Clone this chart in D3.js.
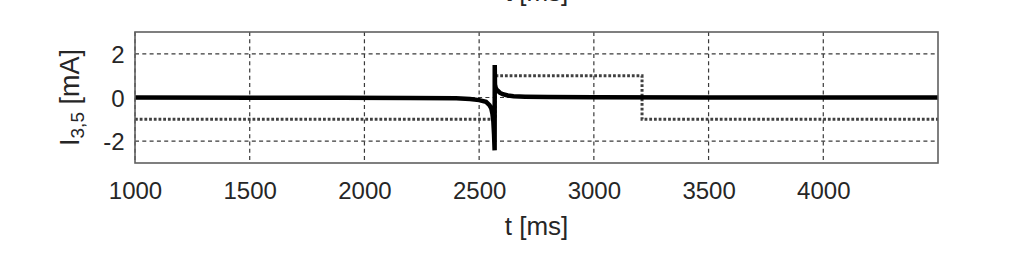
<!DOCTYPE html>
<html>
<head>
<meta charset="utf-8">
<script src="https://cdn.jsdelivr.net/npm/d3@7"></script>
<style>
  body { margin: 0; background: #fff; }
  svg { display: block; font-family: "Liberation Sans", Arial, sans-serif; }
</style>
</head>
<body>
<div id="chart"></div>
<script>
// solid trace: I_3,5 current (time in ms, value in mA)
var solidT = [1000, 1900, 2200, 2400, 2460, 2500, 2530, 2545, 2553, 2558, 2562, 2565, 2567.5,
              2568, 2569, 2572, 2576, 2581, 2590, 2603, 2625, 2650, 2700, 2800, 3000, 3500, 4500];
var solidV = [0.0, -0.01, -0.02, -0.04, -0.07, -0.12, -0.2, -0.35, -0.5, -0.75, -1.1, -1.7, -2.42,
              1.49, 0.6, 0.45, 0.37, 0.31, 0.22, 0.15, 0.09, 0.06, 0.04, 0.02, 0.01, 0.0, 0.0];

// dotted trace: square pulse
var dotT = [1000, 2570, 2570, 3210, 3210, 4500];
var dotV = [-1, -1, 1, 1, -1, -1];

var xTicks = [1000, 1500, 2000, 2500, 3000, 3500, 4000];
var yTicks = [-2, 0, 2];

var margin = { top: 32, right: 98, bottom: 97, left: 135 },
    W = 1036, H = 260,
    width = W - margin.left - margin.right,
    height = H - margin.top - margin.bottom;

var svg = d3.select("#chart")
    .append("svg")
    .attr("width", W)
    .attr("height", H);

var g = svg.append("g")
    .attr("transform", "translate(" + margin.left + "," + margin.top + ")");

var x = d3.scaleLinear().domain([1000, 4500]).range([0, width]);
var y = d3.scaleLinear().domain([-3, 3]).range([height, 0]);

g.append("clipPath").attr("id", "clip")
    .append("rect").attr("width", width).attr("height", height);

// grid
g.selectAll(".vgrid")
    .data(xTicks)
    .enter()
    .append("line")
    .attr("x1", function (d) { return x(d); })
    .attr("x2", function (d) { return x(d); })
    .attr("y1", 0)
    .attr("y2", height)
    .attr("stroke", "#3a3a3a")
    .attr("stroke-width", 1.2)
    .attr("stroke-dasharray", "4,3.3");

g.selectAll(".hgrid")
    .data(yTicks)
    .enter()
    .append("line")
    .attr("x1", 0)
    .attr("x2", width)
    .attr("y1", function (d) { return y(d); })
    .attr("y2", function (d) { return y(d); })
    .attr("stroke", "#3a3a3a")
    .attr("stroke-width", 1.2)
    .attr("stroke-dasharray", "4,3.3");

var line = d3.line()
    .x(function (d) { return x(d[0]); })
    .y(function (d) { return y(d[1]); });

var dotData = d3.zip(dotT, dotV);
var solidData = d3.zip(solidT, solidV);

var plot = g.append("g").attr("clip-path", "url(#clip)");

plot.append("path")
    .datum(dotData)
    .attr("d", line)
    .attr("fill", "none")
    .attr("stroke", "#404040")
    .attr("stroke-width", 3)
    .attr("stroke-dasharray", "2.8,1.9");

plot.append("path")
    .datum(solidData)
    .attr("d", line)
    .attr("fill", "none")
    .attr("stroke", "#000")
    .attr("stroke-width", 4.5)
    .attr("stroke-linejoin", "miter");

// box
g.append("rect")
    .attr("width", width)
    .attr("height", height)
    .attr("fill", "none")
    .attr("stroke", "#606060")
    .attr("stroke-width", 1.6);

// axes (labels only)
var xAxis = g.append("g")
    .attr("transform", "translate(0," + height + ")")
    .call(d3.axisBottom(x).tickValues(xTicks).tickSize(0).tickPadding(0).tickFormat(function (d) { return String(d); }));
xAxis.select(".domain").remove();
xAxis.selectAll("text")
    .attr("y", 36)
    .attr("dy", null)
    .attr("font-size", 24)
    .attr("fill", "#262626")
    .attr("font-family", "Liberation Sans, Arial, sans-serif");

var yAxis = g.append("g")
    .call(d3.axisLeft(y).tickValues(yTicks).tickSize(0).tickPadding(10.5).tickFormat(function (d) { return String(d); }));
yAxis.select(".domain").remove();
yAxis.selectAll("text")
    .attr("dy", "0.36em")
    .attr("font-size", 24)
    .attr("fill", "#262626")
    .attr("font-family", "Liberation Sans, Arial, sans-serif");

// axis titles
svg.append("text")
    .attr("x", margin.left + width / 2)
    .attr("y", 235)
    .attr("text-anchor", "middle")
    .attr("font-size", 26)
    .attr("fill", "#262626")
    .text("t [ms]");

// previous panel's x label, cut off at the top
svg.append("text")
    .attr("x", margin.left + width / 2)
    .attr("y", 1)
    .attr("text-anchor", "middle")
    .attr("font-size", 26)
    .attr("fill", "#262626")
    .text("t [ms]");

var ylab = svg.append("text")
    .attr("transform", "translate(79," + (margin.top + height / 2) + ") rotate(-90)")
    .attr("text-anchor", "middle")
    .attr("font-size", 27)
    .attr("fill", "#262626");
ylab.append("tspan").text("I");
ylab.append("tspan").attr("font-size", 19).attr("dy", 5).text("3,5");
ylab.append("tspan").attr("dy", -5).text(" [mA]");
</script>
</body>
</html>
